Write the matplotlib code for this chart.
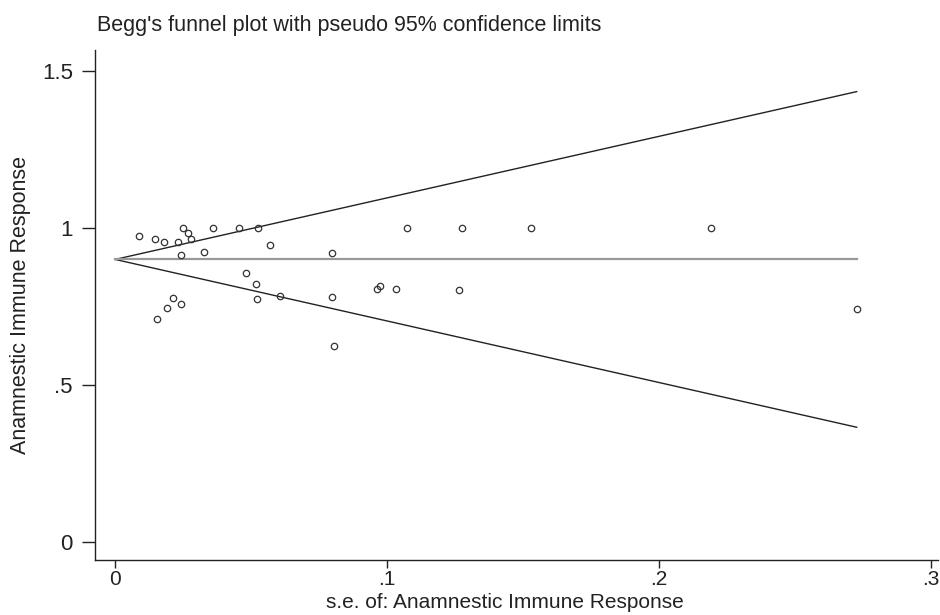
import matplotlib
matplotlib.use("Agg")
import matplotlib.pyplot as plt
import numpy as np

plt.rcParams['font.family'] = ['Liberation Sans', 'DejaVu Sans']

# Study standard errors (x) and effect estimates (y)
se = [0.0086, 0.0145, 0.0179, 0.0251, 0.0269, 0.0233, 0.0279, 0.0242,
      0.0361, 0.0328, 0.0455, 0.0525, 0.0570, 0.0480, 0.0518, 0.0521,
      0.0608, 0.0212, 0.0191, 0.0242, 0.0153, 0.0797, 0.1075, 0.1275,
      0.0799, 0.0962, 0.0974, 0.1032, 0.1265, 0.0806, 0.1530, 0.2190,
      0.2727]
effect = [0.975, 0.964, 0.955, 1.000, 0.983, 0.954, 0.964, 0.914,
          1.000, 0.924, 1.000, 1.000, 0.946, 0.856, 0.821, 0.773,
          0.783, 0.776, 0.744, 0.757, 0.711, 0.921, 1.000, 1.000,
          0.781, 0.806, 0.816, 0.805, 0.803, 0.624, 1.000, 1.000,
          0.741]
pooled = 0.90
z = 1.96

x_ticks = [0, 0.1, 0.2, 0.3]
x_ticklabels = ['0', '.1', '.2', '.3']
y_ticks = [0, 0.5, 1, 1.5]
y_ticklabels = ['0', '.5', '1', '1.5']

title = "Begg's funnel plot with pseudo 95% confidence limits"
xlabel = "s.e. of: Anamnestic Immune Response"
ylabel = "Anamnestic Immune Response"

fig = plt.figure(figsize=(9.4, 6.15), dpi=100)
ax = fig.add_axes([95/940, 55/615, (938-95)/940, (560-50)/615])

se_line = np.array([0, max(se)])
ax.plot(se_line, pooled + z*se_line, color='#222222', lw=1.0)
ax.plot(se_line, pooled - z*se_line, color='#222222', lw=1.0)
ax.plot(se_line, [pooled, pooled], color='#999999', lw=1.6)

ax.plot(se, effect, linestyle='none', marker='o', markersize=4.6,
        markerfacecolor='none', markeredgecolor='#333333', markeredgewidth=0.9)

ax.set_xlim(-0.0074, 0.3026)
ax.set_ylim(-0.0573, 1.567)
ax.set_xticks(x_ticks)
ax.set_xticklabels(x_ticklabels)
ax.set_yticks(y_ticks)
ax.set_yticklabels(y_ticklabels)

for s in ['top', 'right']:
    ax.spines[s].set_visible(False)
for s in ['left', 'bottom']:
    ax.spines[s].set_linewidth(1.0)
    ax.spines[s].set_color('#222222')

ax.tick_params(axis='y', length=9.4, width=1.0, color='#222222', labelsize=16,
               pad=6.5, labelcolor='#222222')
ax.tick_params(axis='x', length=6, width=1.0, color='#222222', labelsize=15,
               pad=1, labelcolor='#222222')

ax.set_ylabel(ylabel, fontsize=15.5, color='#222222', labelpad=8)
fig.text(505/940, 1 - 608/615, xlabel, fontsize=15, color='#222222',
         ha='center', va='baseline')
fig.text(97/940, 1 - 31/615, title, fontsize=15.5, color='#222222',
         ha='left', va='baseline')

fig.savefig('out.png', dpi=100, facecolor='white')
